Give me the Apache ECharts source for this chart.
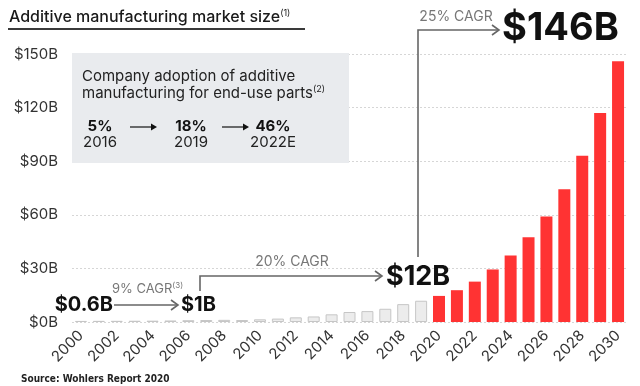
<!DOCTYPE html>
<html><head><meta charset="utf-8">
<script src="https://cdn.jsdelivr.net/npm/echarts@6/dist/echarts.min.js"></script>
<style>html,body{margin:0;padding:0;background:#fff}#c{width:640px;height:386px}</style>
</head><body><div id="c"></div>
<script>
const years = ['2000','2001','2002','2003','2004','2005','2006','2007','2008','2009','2010','2011','2012','2013','2014','2015','2016','2017','2018','2019','2020','2021','2022','2023','2024','2025','2026','2027','2028','2029','2030'];
const historical = [0.6,0.63,0.66,0.7,0.75,0.85,1.0,1.1,1.2,1.1,1.5,1.9,2.6,3.1,4.3,5.6,6.1,7.4,10.0,11.9];
const forecast = [14.6,17.8,22.6,29.4,37.2,47.4,59.0,74.3,93.0,117.0,146.0];
const yTicks = [0,30,60,90,120,150];
const adoptionYears = ['2016','2019','2022E'];
const adoptionShares = ['5%','18%','46%'];

const FONT = 'Inter, "Noto Sans", sans-serif';
const histData = years.map((y,i)=> i < historical.length ? historical[i] : '-');
const foreData = years.map((y,i)=> i >= historical.length ? forecast[i-historical.length] : '-');

const chart = echarts.init(document.getElementById('c'), null, {renderer:'canvas'});

function chevron(x, y, color){
  return {type:'polyline', z:100, shape:{points:[[x-7,y-5],[x,y],[x-7,y+5]]}, style:{stroke:color, lineWidth:1.6, fill:null}};
}
function smallArrow(x1, x2, y){
  return [
    {type:'line', z:100, shape:{x1:x1,y1:y,x2:x2-5,y2:y}, style:{stroke:'#111', lineWidth:1.2}},
    {type:'polygon', z:100, shape:{points:[[x2-6,y-3.5],[x2,y],[x2-6,y+3.5]]}, style:{fill:'#111'}}
  ];
}
const AC = '#666';
const graphics = [
  {type:'text', z:100, x:9, y:17, style:{text:'{a|Additive manufacturing market size}{s|(1)}', verticalAlign:'middle', rich:{
    a:{fontSize:16, fontWeight:500, fill:'#1a1a1a', fontFamily:FONT},
    s:{fontSize:9, fill:'#1a1a1a', fontFamily:FONT, verticalAlign:'top', padding:[0,0,8,0]}}}},
  {type:'rect', z:100, shape:{x:8, y:28, width:297, height:2}, style:{fill:'#3a3a3a'}},
  {type:'rect', z:50, shape:{x:72, y:53, width:277, height:110}, style:{fill:'#e9ebee'}},
  {type:'text', z:100, x:82, y:76, style:{text:'Company adoption of additive', fontSize:15, fill:'#222', fontFamily:FONT, verticalAlign:'middle'}},
  {type:'text', z:100, x:82, y:93, style:{text:'{a|manufacturing for end-use parts}{s|(2)}', verticalAlign:'middle', rich:{
    a:{fontSize:15, fill:'#222', fontFamily:FONT},
    s:{fontSize:9, fill:'#222', fontFamily:FONT, verticalAlign:'top', padding:[0,0,7,0]}}}},
];
const adX = [100, 191, 273];
adoptionShares.forEach((s,i)=>{
  graphics.push({type:'text', z:100, x:adX[i], y:126, style:{text:s, fontSize:15, fontWeight:'bold', fill:'#111', fontFamily:FONT, align:'center', verticalAlign:'middle'}});
  graphics.push({type:'text', z:100, x:adX[i], y:142, style:{text:adoptionYears[i], fontSize:15, fill:'#222', fontFamily:FONT, align:'center', verticalAlign:'middle'}});
});
graphics.push(...smallArrow(130,157,127), ...smallArrow(222,249,127));

graphics.push(
  {type:'text', z:100, x:112, y:289, style:{text:'{a|9% CAGR}{s|(3)}', verticalAlign:'middle', rich:{
    a:{fontSize:13, fill:'#777', fontFamily:FONT},
    s:{fontSize:8, fill:'#777', fontFamily:FONT, verticalAlign:'top', padding:[0,0,6,0]}}}},
  {type:'text', z:100, x:113, y:305, style:{text:'$0.6B', fontSize:20, fontWeight:'bold', fill:'#111', fontFamily:FONT, align:'right', verticalAlign:'middle'}},
  {type:'line', z:100, shape:{x1:114,y1:305,x2:178,y2:305}, style:{stroke:AC, lineWidth:1.6}},
  chevron(178,305,AC),
  {type:'text', z:100, x:181, y:305, style:{text:'$1B', fontSize:20, fontWeight:'bold', fill:'#111', fontFamily:FONT, verticalAlign:'middle'}},
  {type:'polyline', z:100, shape:{points:[[200,291],[200,276],[382,276]]}, style:{stroke:AC, lineWidth:1.6, fill:null}},
  chevron(382,276,AC),
  {type:'text', z:100, x:292, y:262, style:{text:'20% CAGR', fontSize:14, fill:'#777', fontFamily:FONT, align:'center', verticalAlign:'middle'}},
  {type:'text', z:100, x:386, y:277, style:{text:'$12B', fontSize:27, fontWeight:'bold', fill:'#111', fontFamily:FONT, verticalAlign:'middle'}},
  {type:'polyline', z:100, shape:{points:[[418,257],[418,30],[499,30]]}, style:{stroke:AC, lineWidth:1.6, fill:null}},
  chevron(499,30,AC),
  {type:'text', z:100, x:456, y:17, style:{text:'25% CAGR', fontSize:14, fill:'#777', fontFamily:FONT, align:'center', verticalAlign:'middle'}},
  {type:'text', z:100, x:502, y:29, style:{text:'$146B', fontSize:38, fontWeight:'bold', fill:'#111', fontFamily:FONT, verticalAlign:'middle'}},
  {type:'text', z:100, x:21, y:379, style:{text:'Source: Wohlers Report 2020', fontSize:10, fontWeight:'bold', fill:'#222', fontFamily:'"Liberation Sans Narrow", "DejaVu Sans Condensed", Roboto, sans-serif', verticalAlign:'middle'}}
);

chart.setOption({
  animation:false,
  backgroundColor:'#fff',
  grid:{left:72, right:13, top:54, bottom:64, containLabel:false},
  xAxis:{type:'category', data:years,
    axisLine:{show:false}, axisTick:{show:false},
    axisLabel:{interval:1, rotate:45, fontSize:15, color:'#333', fontFamily:FONT, margin:11}},
  yAxis:{type:'value', min:yTicks[0], max:yTicks[yTicks.length-1], interval:yTicks[1]-yTicks[0],
    axisLine:{show:false}, axisTick:{show:false},
    axisLabel:{formatter:v=>'$'+v+'B', fontSize:15, color:'#333', fontFamily:FONT, margin:14},
    splitLine:{lineStyle:{type:[2,2], color:'#d6d6d6', width:1}}},
  series:[
    {type:'bar', stack:'m', data:histData, barWidth:12,
      itemStyle:{color:'#ececec', borderColor:'#c6c6c6', borderWidth:1}},
    {type:'bar', stack:'m', data:foreData, barWidth:12,
      itemStyle:{color:'#ff3333'}}
  ],
  graphic:graphics
});
</script></body></html>
